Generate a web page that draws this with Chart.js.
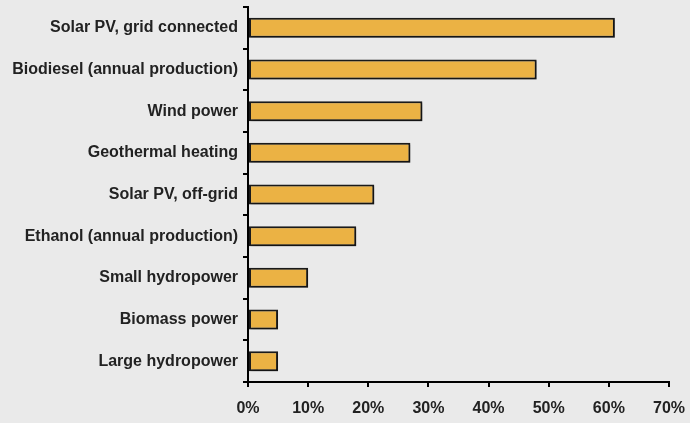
<!DOCTYPE html>
<html>
<head>
<meta charset="utf-8">
<script src="https://cdn.jsdelivr.net/npm/chart.js@4"></script>
<style>
  html, body { margin: 0; padding: 0; background: #eaeaea; }
  #wrap { width: 690px; height: 423px; position: relative; }
</style>
</head>
<body>
<div id="wrap"><canvas id="chart"></canvas></div>
<script>
// categories + values (percent)
const categories = [
  "Solar PV, grid connected",
  "Biodiesel (annual production)",
  "Wind power",
  "Geothermal heating",
  "Solar PV, off-grid",
  "Ethanol (annual production)",
  "Small hydropower",
  "Biomass power",
  "Large hydropower"
];
const growthValues = [61, 48, 29, 27, 21, 18, 10, 5, 5];
const xTicks = [0, 10, 20, 30, 40, 50, 60, 70];

const tickFont = { family: "'Liberation Sans', Arial, sans-serif", size: 16, weight: 'bold' };

// soft shadow under the bars, like the original
const barShadow = {
  id: 'barShadow',
  beforeDatasetsDraw(chart) {
    const ctx = chart.ctx;
    ctx.save();
    ctx.shadowColor = 'rgba(0,0,0,0.3)';
    ctx.shadowBlur = 2;
    ctx.shadowOffsetX = 1.5;
    ctx.shadowOffsetY = 1.5;
  },
  afterDatasetsDraw(chart) {
    chart.ctx.restore();
  }
};

new Chart(document.getElementById('chart'), {
  type: 'bar',
  data: {
    labels: categories,
    datasets: [{
      data: growthValues,
      backgroundColor: '#ebb244',
      borderColor: '#1a1a1a',
      borderWidth: 2,
      borderSkipped: false,
      categoryPercentage: 1,
      barPercentage: 0.48
    }]
  },
  plugins: [barShadow],
  options: {
    indexAxis: 'y',
    responsive: true,
    maintainAspectRatio: false,
    animation: false,
    layout: { padding: { top: 7, right: 21, left: 0, bottom: 0 } },
    plugins: {
      legend: { display: false },
      tooltip: { enabled: false }
    },
    scales: {
      x: {
        min: 0,
        max: 70,
        afterBuildTicks: scale => { scale.ticks = xTicks.map(v => ({ value: v })); },
        afterFit: scale => {
          scale.height = 41;
          scale.paddingLeft = 0;
          scale.paddingRight = 0;
        },
        border: { display: true, color: '#000', width: 2 },
        grid: { drawOnChartArea: false, drawTicks: true, tickLength: 5, color: '#000', lineWidth: 2 },
        ticks: {
          color: '#222',
          font: tickFont,
          padding: 12,
          maxRotation: 0,
          callback: v => v + '%'
        }
      },
      y: {
        afterFit: scale => {
          scale.width = 248;
          scale.paddingTop = 0;
          scale.paddingBottom = 0;
        },
        border: { display: true, color: '#000', width: 2 },
        grid: { drawOnChartArea: false, drawTicks: true, tickLength: 5, offset: true, color: '#000', lineWidth: 2 },
        ticks: {
          color: '#222',
          font: tickFont,
          padding: 5
        }
      }
    }
  }
});
</script>
</body>
</html>
